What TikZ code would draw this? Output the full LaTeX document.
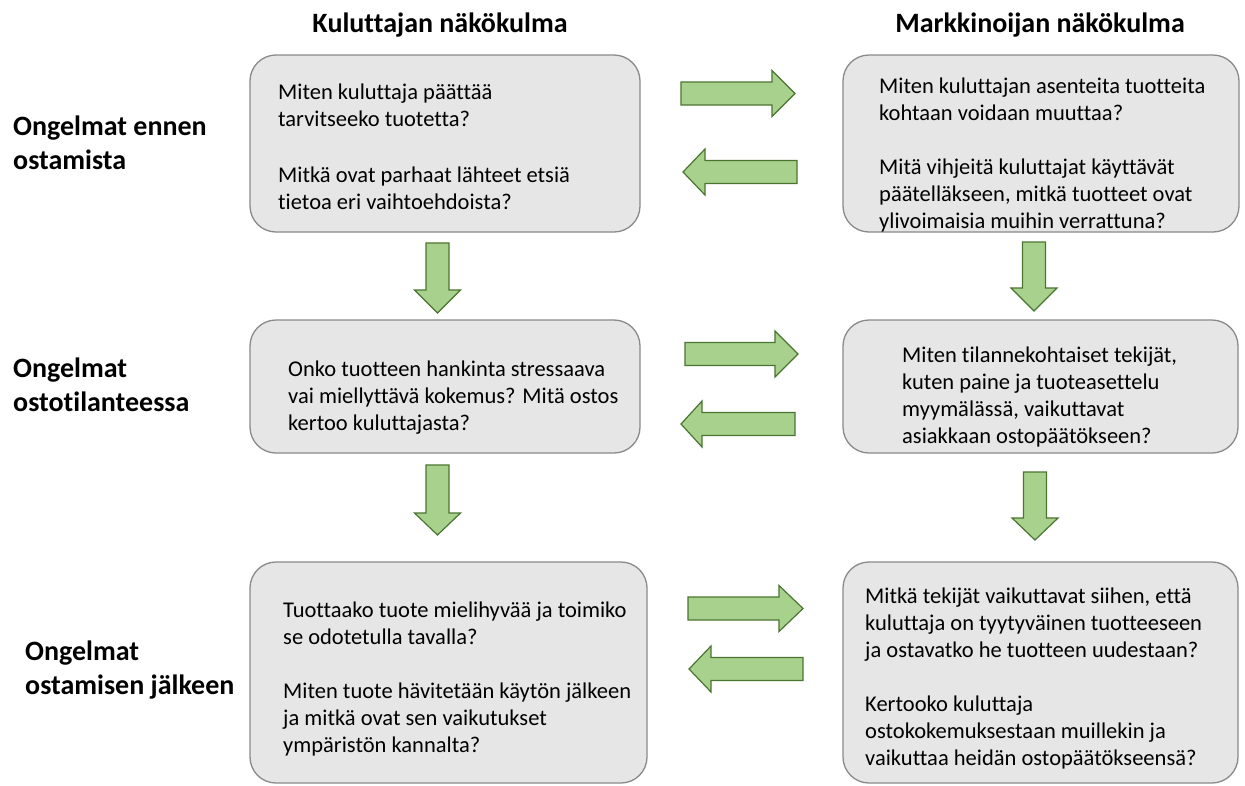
\documentclass[tikz,border=0pt]{standalone}
\usepackage{fontspec}
\setmainfont{Carlito}[Ligatures=NoCommon]
\definecolor{boxfill}{HTML}{E7E6E6}
\definecolor{boxline}{HTML}{8A8A8A}
\definecolor{arrfill}{HTML}{A9D18E}
\definecolor{arrline}{HTML}{4A7530}
\newcommand{\rblk}[4]{\draw[blk] ({#1},{#4-11.5}) -- ({#2},{#4-11.5}) -- ({#2},{#4-23}) -- ({#3},{#4}) -- ({#2},{#4+23}) -- ({#2},{#4+11.5}) -- ({#1},{#4+11.5}) -- cycle;}
\newcommand{\dblk}[4]{\draw[blk] ({#1-11.5},{#2}) -- ({#1-11.5},{#3}) -- ({#1-23},{#3}) -- ({#1},{#4}) -- ({#1+23},{#3}) -- ({#1+11.5},{#3}) -- ({#1+11.5},{#2}) -- cycle;}
\begin{document}
\begin{tikzpicture}[x=1pt,y=-1pt,
  box/.style={draw=boxline, fill=boxfill, line width=1.3pt, rounded corners=26pt, inner sep=0pt},
  txt/.style={anchor=base west, inner sep=0pt, font=\fontsize{22.5}{27}\selectfont},
  hdr/.style={anchor=base, inner sep=0pt, font=\bfseries\fontsize{28}{34}\selectfont},
  rowlab/.style={anchor=base west, inner sep=0pt, font=\bfseries\fontsize{28}{34}\selectfont},
  blk/.style={draw=arrline, fill=arrfill, line width=1.2pt, line join=miter}]
\fill[white] (0,0) rectangle (1245,785);
\useasboundingbox (0,0) rectangle (1245,785);

% headers
\node[hdr] (h1) at (440,32) {Kuluttajan näkökulma};
\node[hdr] (h2) at (1040,32) {Markkinoijan näkökulma};

% row labels
\node[rowlab] (r1) at (13,135) {\begin{tabular}[t]{@{}l@{}}Ongelmat ennen\\ostamista\end{tabular}};
\node[rowlab] (r2) at (13,377) {\begin{tabular}[t]{@{}l@{}}Ongelmat\\ostotilanteessa\end{tabular}};
\node[rowlab] (r3) at (25,660) {\begin{tabular}[t]{@{}l@{}}Ongelmat\\ostamisen jälkeen\end{tabular}};

% boxes
\node[box, minimum width=390pt, minimum height=177pt] (b1) at (445,143.5) {};
\node[box, minimum width=396pt, minimum height=177pt] (b2) at (1041,143.5) {};
\node[box, minimum width=390pt, minimum height=133pt] (b3) at (445,386.5) {};
\node[box, minimum width=395pt, minimum height=133pt] (b4) at (1040.5,386.5) {};
\node[box, minimum width=397pt, minimum height=221pt] (b5) at (448.5,672.5) {};
\node[box, minimum width=395pt, minimum height=221pt] (b6) at (1040.5,672.5) {};

% texts
\node[txt] (t1) at (278,99) {\begin{tabular}[t]{@{}l@{}}Miten kuluttaja päättää\\tarvitseeko tuotetta?\\[2pt] \\Mitkä ovat parhaat lähteet etsiä\\tietoa eri vaihtoehdoista?\end{tabular}};
\node[txt] (t2) at (879,93) {\begin{tabular}[t]{@{}l@{}}Miten kuluttajan asenteita tuotteita\\kohtaan voidaan muuttaa?\\ \\Mitä vihjeitä kuluttajat käyttävät\\päätelläkseen, mitkä tuotteet ovat\\ylivoimaisia muihin verrattuna?\end{tabular}};
\node[txt] (t3) at (288,376) {\begin{tabular}[t]{@{}l@{}}Onko tuotteen hankinta stressaava\\vai miellyttävä kokemus? Mitä ostos\\kertoo kuluttajasta?\end{tabular}};
\node[txt] (t4) at (902,362) {\begin{tabular}[t]{@{}l@{}}Miten tilannekohtaiset tekijät,\\kuten paine ja tuoteasettelu\\myymälässä, vaikuttavat\\asiakkaan ostopäätökseen?\end{tabular}};
\node[txt] (t5) at (283,617) {\begin{tabular}[t]{@{}l@{}}Tuottaako tuote mielihyvää ja toimiko\\se odotetulla tavalla?\\ \\Miten tuote hävitetään käytön jälkeen\\ja mitkä ovat sen vaikutukset\\ympäristön kannalta?\end{tabular}};
\node[txt] (t6) at (865,603) {\begin{tabular}[t]{@{}l@{}}Mitkä tekijät vaikuttavat siihen, että\\kuluttaja on tyytyväinen tuotteeseen\\ja ostavatko he tuotteen uudestaan?\\ \\Kertooko kuluttaja\\ostokokemuksestaan muillekin ja\\vaikuttaa heidän ostopäätökseensä?\end{tabular}};

% horizontal block arrows
\rblk{681}{772}{795}{93.5}
\rblk{797}{705}{683}{172}
\rblk{685}{775}{798}{354}
\rblk{795}{702}{681}{424}
\rblk{688}{779}{803}{608.5}
\rblk{803}{711}{689}{669}

% vertical block arrows
\dblk{437.5}{243}{290}{313}
\dblk{437.5}{465}{513}{535}
\dblk{1034}{242}{288}{311}
\dblk{1035}{472}{518}{540}
\end{tikzpicture}
\end{document}
